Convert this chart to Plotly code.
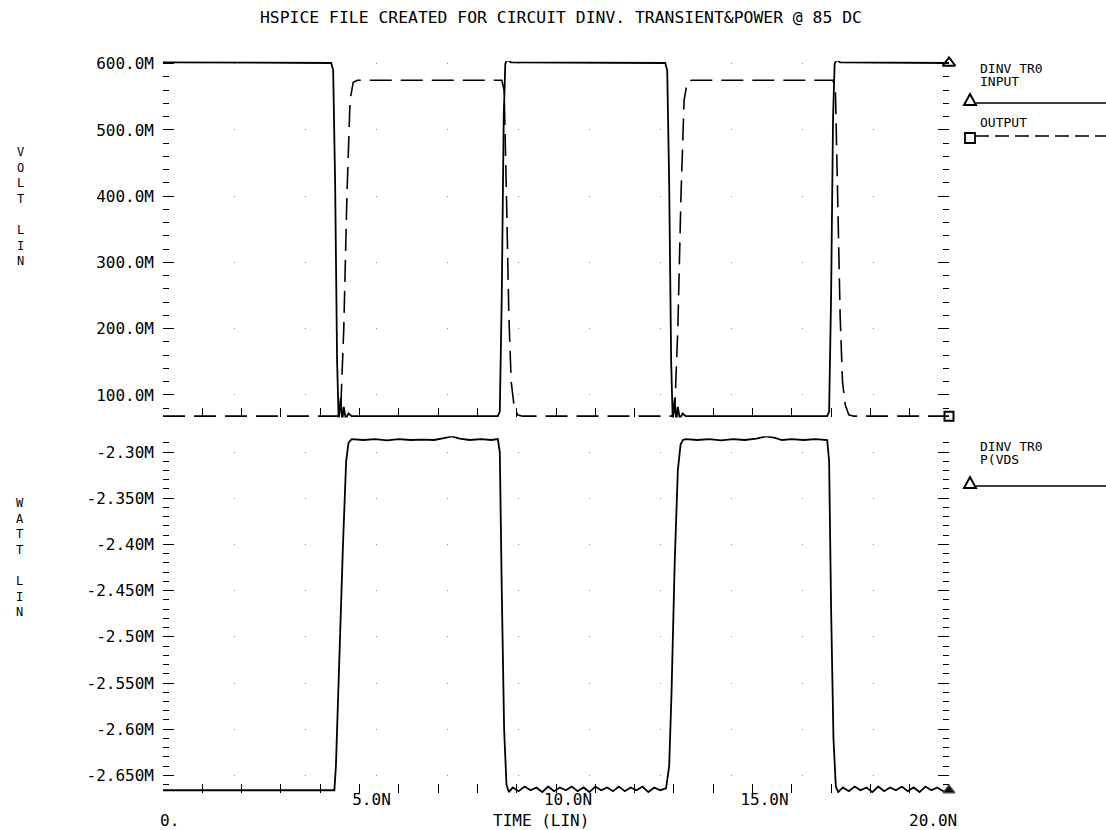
import plotly.graph_objects as go

# ---------------- data (time in ns, volts in mV "M", power in mW "M") ----------------
t_input = [0.0, 4.28, 4.33, 4.38, 4.43, 4.47, 4.52, 4.56, 4.60, 4.65, 4.72, 4.80,
           8.52, 8.57, 8.62, 8.67, 8.71, 8.76, 8.85,
           12.78, 12.83, 12.88, 12.93, 12.97, 13.02, 13.06, 13.10, 13.15, 13.22, 13.30,
           16.90, 16.95, 17.00, 17.05, 17.09, 17.14, 17.23, 20.0]
v_input = [602, 601, 590, 420, 150, 62, 95, 60, 82, 64, 72, 68,
           68, 75, 250, 520, 600, 606, 602,
           601, 590, 420, 150, 62, 95, 60, 82, 64, 72, 68,
           68, 75, 250, 520, 600, 606, 602, 601]

t_output = [0.0, 4.45, 4.52, 4.60, 4.68, 4.76, 4.84, 4.95,
            8.62, 8.68, 8.74, 8.80, 8.86, 8.93, 9.02, 9.15,
            12.95, 13.02, 13.10, 13.18, 13.26, 13.34, 13.45,
            17.05, 17.11, 17.17, 17.23, 17.29, 17.36, 17.45, 17.58, 20.0]
v_output = [68, 68, 75, 200, 400, 545, 572, 575,
            575, 560, 400, 220, 120, 85, 70, 68,
            68, 75, 200, 400, 545, 572, 575,
            575, 560, 400, 220, 120, 85, 70, 68, 68]

t_power = [0.00, 4.36, 4.40, 4.48, 4.58, 4.66, 4.72, 4.80,
           5.10, 5.40, 5.70, 6.00, 6.30, 6.60, 6.90, 7.15, 7.35, 7.55, 7.80, 8.10, 8.35, 8.52,
           8.57, 8.62, 8.68, 8.74, 8.80,
           8.90, 9.05, 9.20, 9.35, 9.50, 9.65, 9.80, 9.95, 10.10, 10.25, 10.40, 10.55, 10.70,
           10.85, 11.00, 11.15, 11.30, 11.45, 11.60, 11.75, 11.90, 12.05, 12.20, 12.35, 12.50,
           12.65, 12.80,
           12.88, 12.94, 13.02, 13.10, 13.17, 13.23, 13.30,
           13.60, 13.90, 14.20, 14.50, 14.80, 15.10, 15.35, 15.55, 15.75, 16.00, 16.30, 16.60, 16.90,
           16.95, 17.00, 17.06, 17.12, 17.18,
           17.30, 17.45, 17.60, 17.75, 17.90, 18.05, 18.20, 18.35, 18.50, 18.65, 18.80, 18.95,
           19.10, 19.25, 19.40, 19.55, 19.70, 19.85, 20.00]
p_power = [-2.666, -2.666, -2.640, -2.530, -2.400, -2.310, -2.290, -2.286,
           -2.287, -2.286, -2.2875, -2.286, -2.287, -2.2865, -2.287, -2.285, -2.283, -2.2855,
           -2.287, -2.286, -2.287, -2.286,
           -2.300, -2.450, -2.600, -2.660, -2.668,
           -2.663, -2.667, -2.662, -2.666, -2.663, -2.668, -2.662, -2.667, -2.663, -2.666,
           -2.662, -2.667, -2.663, -2.668, -2.662, -2.666, -2.663, -2.667, -2.662, -2.667,
           -2.663, -2.666, -2.662, -2.668, -2.663, -2.666, -2.664,
           -2.640, -2.560, -2.420, -2.320, -2.292, -2.287, -2.286,
           -2.287, -2.286, -2.2875, -2.286, -2.287, -2.2855, -2.283, -2.2845, -2.287, -2.286,
           -2.287, -2.286, -2.287,
           -2.310, -2.470, -2.610, -2.662, -2.668,
           -2.663, -2.667, -2.662, -2.666, -2.663, -2.668, -2.662, -2.667, -2.663, -2.666,
           -2.662, -2.667, -2.663, -2.668, -2.662, -2.666, -2.663, -2.667, -2.666]

volt_ticks = [100, 200, 300, 400, 500, 600]
volt_labels = ["100.0M", "200.0M", "300.0M", "400.0M", "500.0M", "600.0M"]
watt_ticks = [-2.30, -2.35, -2.40, -2.45, -2.50, -2.55, -2.60, -2.65]
watt_labels = ["-2.30M", "-2.350M", "-2.40M", "-2.450M", "-2.50M", "-2.550M", "-2.60M", "-2.650M"]
time_ticks = [5, 10, 15]
time_labels = ["5.0N", "10.0N", "15.0N"]

FONT = "DejaVu Sans Mono"
INK = "black"

fig = go.Figure()
fig.add_trace(go.Scatter(x=t_input, y=v_input, mode="lines", xaxis="x", yaxis="y",
                         line=dict(color=INK, width=1.8)))
fig.add_trace(go.Scatter(x=t_output, y=v_output, mode="lines", xaxis="x", yaxis="y",
                         line=dict(color=INK, width=1.6, dash="22px,9px")))
fig.add_trace(go.Scatter(x=t_power, y=p_power, mode="lines", xaxis="x2", yaxis="y2",
                         line=dict(color=INK, width=1.8)))
# end-of-trace symbols
fig.add_trace(go.Scatter(x=[t_input[-1]], y=[v_input[-1]], mode="markers", xaxis="x", yaxis="y",
                         cliponaxis=False,
                         marker=dict(symbol="triangle-up-open", size=11, color=INK, line=dict(width=2))))
fig.add_trace(go.Scatter(x=[t_output[-1]], y=[v_output[-1]], mode="markers", xaxis="x", yaxis="y",
                         cliponaxis=False,
                         marker=dict(symbol="square-open", size=9, color=INK, line=dict(width=2))))
fig.add_trace(go.Scatter(x=[t_power[-1]], y=[p_power[-1]], mode="markers", xaxis="x2", yaxis="y2",
                         cliponaxis=False,
                         marker=dict(symbol="triangle-up", size=10, color=INK, line=dict(width=1.5))))

tickfont = dict(family=FONT, size=16, color=INK)

common_x = dict(range=[0, 20], showline=False, showgrid=False, zeroline=False,
                ticks="inside", ticklen=9, tickwidth=1.3, tickcolor=INK)

fig.update_layout(
    width=1106, height=830,
    margin=dict(l=163, r=157, t=61, b=37),
    paper_bgcolor="white", plot_bgcolor="white",
    showlegend=False, hovermode=False,
    font=dict(family=FONT, color=INK),
    xaxis=dict(domain=[0, 1], anchor="y", tickmode="linear", tick0=0, dtick=1,
               showticklabels=False, **common_x),
    yaxis=dict(domain=[0.513, 1.0], anchor="x", range=[66, 604],
               tickmode="array", tickvals=volt_ticks, ticktext=volt_labels,
               ticks="inside", ticklen=11, tickwidth=1.3, tickcolor=INK, mirror="ticks",
               showline=False, zeroline=False,
               showgrid=True, gridcolor="#888888", gridwidth=1, griddash="1px,70px",
               minor=dict(ticks="inside", ticklen=6, tickwidth=1.2, tickcolor=INK,
                          tickmode="linear", tick0=0, dtick=20, showgrid=False),
               tickfont=tickfont, ticklabelstandoff=8),
    xaxis2=dict(domain=[0, 1], anchor="y2", tickmode="array", tickvals=time_ticks,
                ticktext=time_labels, tickfont=tickfont, ticklabelshift=12, ticklabelstandoff=-5,
                minor=dict(ticks="inside", ticklen=9, tickwidth=1.3, tickcolor=INK,
                           tickmode="linear", tick0=0, dtick=1, showgrid=False),
                **common_x),
    yaxis2=dict(domain=[0.0, 0.4873], anchor="x2", range=[-2.669, -2.283],
                tickmode="array", tickvals=watt_ticks, ticktext=watt_labels,
                ticks="inside", ticklen=11, tickwidth=1.3, tickcolor=INK, mirror="ticks",
                showline=False, zeroline=False,
                showgrid=True, gridcolor="#888888", gridwidth=1, griddash="1px,70px",
                minor=dict(ticks="inside", ticklen=6, tickwidth=1.2, tickcolor=INK,
                           tickmode="linear", tick0=0, dtick=0.01, showgrid=False),
                tickfont=tickfont, ticklabelstandoff=8),
)

annotations = []
def ann(text, x, y, xref="paper", yref="paper", xanchor="left", yanchor="middle",
        xshift=0, yshift=0, size=16, align="left"):
    annotations.append(dict(text=text, x=x, y=y, xref=xref, yref=yref, xanchor=xanchor,
                            yanchor=yanchor, xshift=xshift, yshift=yshift, showarrow=False,
                            align=align, font=dict(family=FONT, size=size, color=INK)))

# title
ann("HSPICE FILE CREATED FOR CIRCUIT DINV. TRANSIENT&POWER @ 85 DC", 0, 1,
    xshift=95, yshift=44, size=16.4)
# axis titles (stacked letters)
ann("V<br>O<br>L<br>T<br><br>L<br>I<br>N", 0, 1, xanchor="center", xshift=-143,
    yshift=-145, size=12, align="center")
ann("W<br>A<br>T<br>T<br><br>L<br>I<br>N", 0, 1, xanchor="center", xshift=-143,
    yshift=-496, size=12, align="center")
# bottom row labels
ann("0.", 0, 0, xref="x2", xanchor="left", xshift=-5, yshift=-27)
ann("20.0N", 20, 0, xref="x2", xanchor="right", xshift=10, yshift=-27)
ann("TIME (LIN)", 0.481, 0, xanchor="center", yshift=-27)
# legend text
ann("DINV TR0", 1, 1, xshift=29, yshift=-7, size=13)
ann("INPUT", 1, 1, xshift=29, yshift=-20, size=13)
ann("OUTPUT", 1, 1, xshift=29, yshift=-61, size=13)
ann("DINV TR0", 1, 1, xshift=29, yshift=-385, size=13)
ann("P(VDS", 1, 1, xshift=29, yshift=-398, size=13)
fig.update_layout(annotations=annotations)

def pshape(kind, **kw):
    d = dict(type=kind, xref="paper", yref="paper", xsizemode="pixel", ysizemode="pixel",
             xanchor=1, yanchor=1, line=dict(color=INK, width=1.6))
    d.update(kw)
    return d

shapes = [
    pshape("path", path="M 15,-44 L 27,-44 L 21,-33 Z", line=dict(color=INK, width=2)),
    pshape("line", x0=27, x1=157, y0=-42, y1=-42),
    pshape("path", path="M 16,-82 L 26,-82 L 26,-72 L 16,-72 Z", line=dict(color=INK, width=1.8)),
    pshape("line", x0=26, x1=157, y0=-75, y1=-75, line=dict(color=INK, width=1.4, dash="14px,6px")),
    pshape("path", path="M 15,-427 L 27,-427 L 21,-416 Z", line=dict(color=INK, width=2)),
    pshape("line", x0=27, x1=157, y0=-425, y1=-425),
]
fig.update_layout(shapes=shapes)

# remove the browser's default 8px body margin so the figure fills the window exactly
fig.write_html("out.html", config={"displayModeBar": False},
               post_script="document.body.style.margin='0px';document.body.style.overflow='hidden';")
